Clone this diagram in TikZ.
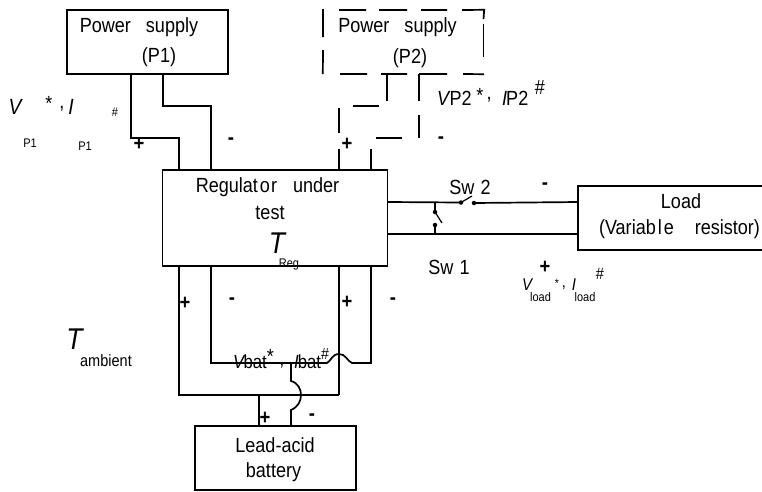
\documentclass[tikz,border=0pt]{standalone}
\usepackage{fontspec}
\setmainfont[FakeStretch=0.88]{Liberation Sans}
\newcommand{\fs}[1]{\fontsize{#1}{#1}\selectfont}
\tikzset{
  x=1pt,y=-1pt,
  wire/.style={line width=1.7pt,line join=miter},
  boxed/.style={draw,line width=1.7pt,minimum width=0pt,inner sep=0pt,rectangle},
  lab/.style={inner sep=0pt,font=\fs{20.5}},
  batlab/.style={inner sep=0pt,font=\fs{19}},
  it/.style={inner sep=0pt,font=\fs{22}\itshape},
  bigit/.style={inner sep=0pt,font=\fs{30}\itshape},
  tiny/.style={inner sep=0pt,font=\fs{12.5}},
  mid/.style={inner sep=0pt,font=\fs{16.5}},
  midit/.style={inner sep=0pt,font=\fs{17}\itshape},
  sgn/.style={inner sep=0pt,font=\fs{21}\bfseries},
  dot/.style={circle,fill=black,inner sep=0pt,minimum size=4.5pt},
}
\begin{document}
\begin{tikzpicture}
\useasboundingbox (0,0) rectangle (762,491);
\clip (0,0) rectangle (762,491);
% boxes
\node[boxed,minimum width=161pt,minimum height=64pt] (p1) at (147.5,42) {};
\node[boxed,minimum width=225pt,minimum height=96pt] (reg) at (275,218) {};
\node[boxed,minimum width=190pt,minimum height=64pt] (load) at (673,218) {};
\node[boxed,minimum width=161pt,minimum height=64pt] (bat) at (275.5,458) {};
% dashed P2 box
\node[inner sep=0pt,minimum width=161pt,minimum height=64pt] (p2) at (403.5,42) {};
\draw[wire] (339,10) -- (366,10) (379,10) -- (407,10) (421,10) -- (447,10) (462,10) -- (p2.north east) -- (483.5,19);
\draw[wire] (483.5,24) -- (483.5,57);
\draw[wire] (323,9) -- (323,37) (323,50) -- (p2.south west);
\draw[wire] (340,74) -- (367,74) (381,74) -- (407,74) (419,74) -- (447,74) (463,74) -- (p2.south east);
% P1 wires
\coordinate (a1) at (131,74);
\coordinate (a2) at (179,170);
\coordinate (b1) at (163,74);
\coordinate (b2) at (211,170);
\draw[wire] (a1) |- (179,138) -- (a2);
\draw[wire] (b1) |- (211,106) -- (b2);
% P2 wires (dashed)
\draw[wire] (387,74) -- (387,101) (353,106) -- (379,106) (339,108) -- (339,133) (339,149) -- (339,170);
\draw[wire] (419,74) -- (419,101) (419,115) -- (419,138) (376,138) -- (402,138) (371,149) -- (371,170);
% load wires
\coordinate (s2a) at (461,202.5);
\coordinate (s2b) at (474,203);
\coordinate (s1a) at (435,212);
\coordinate (s1b) at (435,225);
\node[dot] (d2a) at (s2a) {};
\node[dot] (d2b) at (s2b) {};
\node[dot] (d1a) at (s1a) {};
\node[dot] (d1b) at (s1b) {};
\draw[wire] (388,202) -- (d2a.center);
\draw[wire] (d2b.center) -- (578,202);
\draw[wire] (388,234) -- (578,234);
\draw[wire] (435,202) -- (d1a.center);
\draw[wire] (d1b.center) -- (435,234);
\draw[line width=1.2pt] (d2a.center) -- (472,196);
\draw[line width=1.2pt] (d1a.center) -- (442,223);
% battery wires
\draw[wire] (179,266) -- (179,395) -- (339,395);
\draw[wire] (339,266) -- (339,395);
\draw[wire] (211,266) -- (211,363) -- (327,363) .. controls (331,361) and (332,354) .. (339,354) .. controls (346,354) and (347,361) .. (352,363) -- (371,363) -- (371,266);
\draw[wire] (259,395) -- (259,426);
\draw[wire] (291,363) -- (291,381) .. controls (298,383) and (301,389) .. (301,395) .. controls (301,401) and (298,407) .. (291,410) -- (291,426);
% box texts
\node[lab] (t1) at (139,27) {Power\hspace{15pt}supply};
\node[lab] (t2) at (159,57) {(P1)};
\node[lab] (t3) at (397.5,27) {Power\hspace{15pt}supply};
\node[lab] (t4) at (410,58) {(P2)};
\node[lab] (t5) at (267.5,187) {Regulat\hspace{2pt}o\hspace{1pt}r\hspace{16pt}under};
\node[lab] (t6) at (270,213) {test};
\node[bigit] (t7) at (277,243) {T};
\node[tiny] (t8) at (289,264) {Reg};
\node[lab] (t9) at (681,201) {Load};
\node[lab] (t10) at (679.5,229) {(Variab\hspace{2pt}l\hspace{2pt}e\hspace{21pt}resistor)};
\node[lab] (t11) at (275,445) {Lead-acid};
\node[lab] (t12) at (273.5,472) {battery};
\node[lab] (t13) at (470,187) {Sw\hspace{1pt} 2};
\node[lab] (t14) at (449,267) {Sw\hspace{1pt} 1};
% P1 label
\node[it] (v1) at (15,107) {V};
\node[lab] (v2) at (49,103) {*};
\node[lab] (v3) at (62,109) {,};
\node[it] (v4) at (71,107) {I};
\node[tiny] (v5) at (115,112) {\#};
\node[tiny] (v6) at (30,143) {P1};
\node[tiny] (v7) at (85,146) {P1};
% P2 label
\node[lab,anchor=west] (w1) at (437,98) {\textit{V}\kern-1pt P2};
\node[lab] (w3) at (480,95) {*};
\node[lab] (w4) at (489,100) {,};
\node[lab,anchor=west] (w5) at (502,98) {\textit{I}\kern-1pt P2};
\node[lab] (w7) at (540,87) {\#};
% load label
\node[midit] (l1) at (527,285) {V};
\node[tiny] (l2) at (540.5,297) {load};
\node[inner sep=0pt,font=\fs{12}] (l3) at (557,283) {*};
\node[mid] (l4) at (564,288) {,};
\node[midit] (l5) at (574,285) {I};
\node[tiny] (l6) at (585,297) {load};
\node[mid] (l7) at (600,274) {\#};
% bat label
\node[batlab,anchor=west] (x1) at (233,362) {\textit{V}\kern-2pt bat};
\node[lab] (x3) at (270.5,356) {*};
\node[lab] (x4) at (282,366) {,};
\node[batlab,anchor=west] (x5) at (294,362) {\textit{I}\kern-1pt bat};
\node[inner sep=0pt,font=\fs{16}] (x7) at (325,354) {\#};
% ambient
\node[bigit] (am1) at (74.5,339) {T};
\node[mid] (am2) at (106,361) {ambient};
% signs
\node[sgn] at (139,144) {+};
\node[sgn] at (231,141) {-};
\node[sgn] at (347,144) {+};
\node[sgn] at (441,140) {-};
\node[sgn] at (545,186) {-};
\node[sgn] at (545,267) {+};
\node[sgn] at (185,303) {+};
\node[sgn] at (232,301) {-};
\node[sgn] at (347,302) {+};
\node[sgn] at (393,301) {-};
\node[sgn] at (265,418) {+};
\node[sgn] at (312,417) {-};
\end{tikzpicture}
\end{document}
